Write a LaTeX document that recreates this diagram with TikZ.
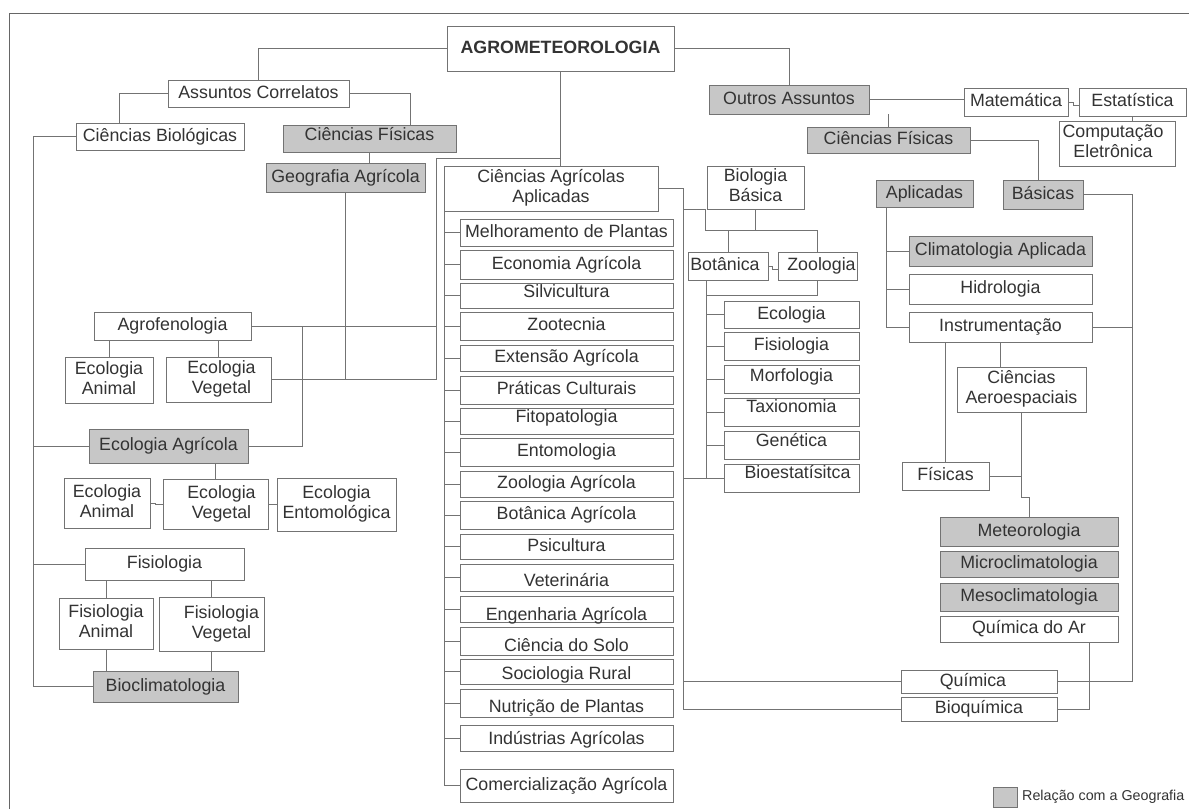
\documentclass[tikz,border=0pt]{standalone}
\usepackage{fontspec}
\setmainfont{Liberation Sans}
\newcommand\dn[2]{\raisebox{-#1pt}{#2}}
\newcommand\rsh[2]{\hspace*{#1pt}#2\hspace*{-#1pt}}
\newcommand\tl[2]{\begin{tabular}{@{}c@{}}#1\\#2\end{tabular}}
\newcommand\mybx[7][]{%
 \pgfmathsetmacro\bxw{#5-#3}\pgfmathsetmacro\bxh{#6-#4}%
 \pgfmathsetmacro\bxcx{(#3+#5)/2}\pgfmathsetmacro\bxcy{(#4+#6)/2}%
 \node[box,#1,minimum width=\bxw pt,minimum height=\bxh pt] (#2) at (\bxcx,\bxcy) {#7};}
\tikzset{
  box/.style={draw=black!55, line width=0.9pt, fill=white, inner sep=0pt, outer sep=0pt,
    text height=13pt, text depth=4pt, font=\fontsize{17.8}{20}\selectfont, text=black!80},
  gbox/.style={fill=black!22},
  ln/.style={draw=black!55, line width=0.9pt},
}
\begin{document}
\begin{tikzpicture}[x=1pt,y=-1pt]
\useasboundingbox (0,0) rectangle (1189,809);
\draw[black!60, line width=1pt] (9,809) -- (9,13) -- (1189,13);
% ---- top / left
\mybx{agro}{447}{26}{674}{71}{\textbf{AGROMETEOROLOGIA}}
\mybx{ac}{168}{80}{349}{107}{Assuntos Correlatos}
\mybx{cbio}{76}{123}{244}{150}{Ciências Biológicas}
\mybx[gbox]{cfa}{283}{125}{456}{152}{\dn{-3}{Ciências Físicas}}
\mybx[gbox]{geo}{266}{163}{425}{192}{Geografia Agrícola}
\mybx{agrof}{94}{312}{251}{340}{Agrofenologia}
\mybx{eca1}{65}{357}{153}{403}{\tl{Ecologia}{Animal}}
\mybx{ecv1}{166}{357}{271}{402}{\rsh{3}{\tl{Ecologia}{Vegetal}}}
\mybx[gbox]{ecoag}{89}{429}{248}{463}{Ecologia Agrícola}
\mybx{eca2}{64}{478}{150}{528}{\tl{Ecologia}{Animal}}
\mybx{ecv2}{163}{479}{268}{529}{\rsh{6}{\tl{Ecologia}{Vegetal}}}
\mybx{ecent}{277}{478}{396}{531}{\tl{Ecologia}{Entomológica}}
\mybx{fisio}{85}{548}{244}{580}{Fisiologia}
\mybx{fa}{59}{598}{153}{649}{\tl{Fisiologia}{Animal}}
\mybx{fv}{159}{597}{264}{651}{\rsh{10}{\tl{Fisiologia}{Vegetal}}}
\mybx[gbox]{bioc}{93}{671}{238}{702}{Bioclimatologia}
% ---- centre
\mybx{caa}{444}{166}{658}{211}{\tl{Ciências Agrícolas}{Aplicadas}}
\mybx{m1}{460}{219}{673}{246}{Melhoramento de Plantas}
\mybx{m2}{460}{250}{673}{279}{Economia Agrícola}
\mybx{m3}{460}{283}{673}{308}{\dn{-3}{Silvicultura}}
\mybx{m4}{460}{312}{673}{340}{Zootecnia}
\mybx{m5}{460}{345}{673}{371}{Extensão Agrícola}
\mybx{m6}{460}{376}{673}{404}{Práticas Culturais}
\mybx{m7}{460}{408}{673}{434}{\dn{-3}{Fitopatologia}}
\mybx{m8}{460}{438}{673}{466}{Entomologia}
\mybx{m9}{460}{471}{673}{497}{Zoologia Agrícola}
\mybx{m10}{460}{501}{673}{529}{Botânica Agrícola}
\mybx{m11}{460}{534}{673}{559}{Psicultura}
\mybx{m12}{460}{564}{673}{591}{\dn{4}{Veterinária}}
\mybx{m13}{460}{596}{673}{622}{\dn{7}{Engenharia Agrícola}}
\mybx{m14}{460}{627}{673}{655}{\dn{6}{Ciência do Solo}}
\mybx{m15}{460}{659}{673}{684}{\dn{3}{Sociologia Rural}}
\mybx{m16}{460}{689}{673}{717}{\dn{5}{Nutrição de Plantas}}
\mybx{m17}{460}{725}{673}{751}{\dn{2}{Indústrias Agrícolas}}
\mybx{m18}{460}{769}{673}{802}{Comercialização Agrícola}
\mybx{bb}{707}{166}{804}{209}{\tl{Biologia}{Básica}}
\mybx{bot}{688}{252}{768}{280}{\rsh{-3}{Botânica}}
\mybx{zoo}{778}{252}{857}{280}{\rsh{4}{Zoologia}}
\mybx{l1}{724}{301}{859}{328}{Ecologia}
\mybx{l2}{724}{332}{859}{360}{Fisiologia}
\mybx{l3}{724}{365}{859}{393}{\dn{-2}{Morfologia}}
\mybx{l4}{724}{398}{859}{426}{\dn{-4}{Taxionomia}}
\mybx{l5}{724}{431}{859}{459}{\dn{-3}{Genética}}
\mybx{l6}{724}{464}{859}{492}{\dn{-4}{\rsh{6}{Bioestatísitca}}}
% ---- right
\mybx[gbox]{outros}{709}{85}{869}{114}{Outros Assuntos}
\mybx{mat}{964}{88}{1068}{116}{Matemática}
\mybx{est}{1079}{88}{1186}{116}{Estatística}
\mybx{comp}{1059}{121}{1175}{166}{\rsh{-4}{\tl{Computação}{Eletrônica}}}
\mybx[gbox]{cf2}{807}{127}{970}{153}{Ciências Físicas}
\mybx[gbox]{apl}{876}{180}{973}{207}{Aplicadas}
\mybx[gbox]{bas}{1003}{180}{1083}{209}{Básicas}
\mybx[gbox]{clim}{909}{236}{1092}{266}{Climatologia Aplicada}
\mybx{hidro}{909}{274}{1092}{304}{Hidrologia}
\mybx{inst}{909}{312}{1092}{342}{Instrumentação}
\mybx{aero}{957}{367}{1086}{412}{\tl{Ciências}{Aeroespaciais}}
\mybx{fis}{902}{462}{989}{490}{Físicas}
\mybx[gbox]{met}{940}{517}{1118}{546}{Meteorologia}
\mybx[gbox]{micro}{940}{551}{1118}{577}{Microclimatologia}
\mybx[gbox]{meso}{940}{583}{1118}{611}{Mesoclimatologia}
\mybx{qar}{940}{616}{1118}{642}{Química do Ar}
\mybx{qui}{901}{670}{1057}{693}{\rsh{-6}{Química}}
\mybx{bioq}{901}{697}{1057}{721}{Bioquímica}
% legend
\mybx[gbox]{leg}{993}{787}{1017}{807}{}
\node[anchor=west, inner sep=0pt, font=\fontsize{14.3}{17}\selectfont, text=black!80] (legt) at (1022,797) {Relação com a Geografia};
% ---- junction coordinates
\coordinate (j1) at (436,158);
\coordinate (j2) at (302,326);
\coordinate (j3) at (33,136);
\coordinate (j4) at (683,189);
\coordinate (j5) at (705,230);
\coordinate (j6) at (706,280);
\coordinate (j7) at (706,295);
\coordinate (j8) at (1132,195);
\coordinate (j9) at (886,207);
\coordinate (j10) at (1021,497);
\coordinate (j11) at (1089,642);
% ---- connectors left
\draw[ln] (agro.west) -| (ac.north);
\draw[ln] (ac.west) -| ([xshift=-41pt]cbio.north);
\draw[ln] (ac.east) -| ([xshift=40.5pt]cfa.north);
\draw[ln] (cfa.south) -- (cfa.south |- geo.north);
\draw[ln] (geo.south) -- (geo.south |- ecv1.east);
\draw[ln] (agro.south) -- (agro.south |- caa.north);
\draw[ln] (agro.south |- j1) -- (j1) |- (ecv1.east);
\draw[ln] (agrof.east) -- (agrof.east -| j1);
\draw[ln] (j2) |- (ecoag.east);
\draw[ln] (agrof.south -| eca1.north) -- (eca1.north);
\draw[ln] (agrof.south -| ecv1.north) -- (ecv1.north);
\draw[ln] (cbio.west) -- (cbio.west -| j3) |- (bioc.west);
\draw[ln] (ecoag.west) -- (ecoag.west -| j3);
\draw[ln] (fisio.west) -- (fisio.west -| j3);
\draw[ln] (ecv2.north) -- (ecv2.north |- ecoag.south);
\draw[ln] (eca2.east) -- ++(5,0) |- (ecv2.west);
\draw[ln] (ecv2.east) -- ++(4,0) |- (ecent.west);
\draw[ln] (fisio.south -| fa.north) -- (fa.north);
\draw[ln] (fisio.south -| fv.north) -- (fv.north);
\draw[ln] (fa.south) -- (fa.south |- bioc.north);
\draw[ln] (fv.south) -- (fv.south |- bioc.north);
% ---- connectors centre
\draw[ln] (caa.east) -- (caa.east -| j4) |- (bioq.west);
\draw[ln] (j4 |- qui.west) -- (qui.west);
\draw[ln] (j4 |- l6.west) -- (l6.west);
\draw[ln] (j4 |- bb.south) -| (j5) -| (zoo.north);
\draw[ln] (bb.south) -- (bb.south |- j5);
\draw[ln] (bot.north) -- (bot.north |- j5);
\draw[ln] (bot.east) -- ++(4,0) |- ([yshift=-3pt]zoo.west);
\draw[ln] (j6) |- (l6.west);
\draw[ln] (zoo.south) |- (j7);
\foreach \n in {l1,l2,l3,l4,l5} \draw[ln] (\n.west) -- (\n.west -| j6);
\draw[ln] (caa.south west) |- (m18.west);
\foreach \n in {m1,m2,m3,m4,m5,m6,m7,m8,m9,m10,m11,m12,m13,m14,m15,m16,m17}
  \draw[ln] (\n.west) -- (\n.west -| caa.west);
% ---- connectors right
\draw[ln] (agro.east) -| (outros.north);
\draw[ln] (outros.east) -- (outros.east -| mat.west);
\draw[ln] (mat.east) -- ++(5,0) |- ([yshift=-3pt]est.west);
\draw[ln] (est.south) -- (est.south |- comp.north);
\draw[ln] (cf2.north) -- (cf2.north |- outros.south);
\draw[ln] (cf2.east) -| ([xshift=-5pt]bas.north);
\draw[ln] (bas.east) -- (bas.east -| j8) |- (qui.east);
\draw[ln] (inst.east) -- (inst.east -| j8);
\draw[ln] (j9) |- (inst.west);
\draw[ln] (clim.west) -- (clim.west -| j9);
\draw[ln] (hidro.west) -- (hidro.west -| j9);
\draw[ln] (fis.north) -- (fis.north |- inst.south);
\draw[ln] ([xshift=-21pt]aero.north) -- ([xshift=-21pt]aero.north |- inst.south);
\draw[ln] (aero.south) -- (aero.south |- j10) -| (met.north);
\draw[ln] (fis.east) -- (fis.east -| aero.south);
\draw[ln] (j11) |- (bioq.east);
\end{tikzpicture}
\end{document}
